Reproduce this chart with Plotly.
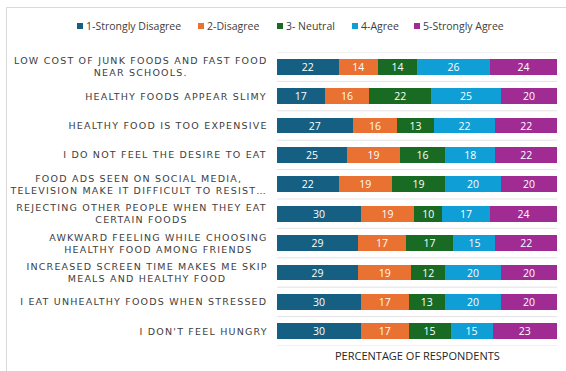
import plotly.graph_objects as go

categories = [
    "LOW COST OF JUNK FOODS AND FAST FOOD<br>NEAR SCHOOLS.",
    "HEALTHY FOODS APPEAR SLIMY",
    "HEALTHY FOOD IS TOO EXPENSIVE",
    "I DO NOT FEEL THE DESIRE TO EAT",
    "FOOD ADS SEEN ON SOCIAL MEDIA,<br>TELEVISION MAKE IT DIFFICULT TO RESIST…",
    "REJECTING OTHER PEOPLE WHEN THEY EAT<br>CERTAIN FOODS",
    "AWKWARD FEELING WHILE CHOOSING<br>HEALTHY FOOD AMONG FRIENDS",
    "INCREASED SCREEN TIME MAKES ME SKIP<br>MEALS AND HEALTHY FOOD",
    "I EAT UNHEALTHY FOODS WHEN STRESSED",
    "I DON'T FEEL HUNGRY",
]
series_names = ["1-Strongly Disagree", "2-Disagree", "3- Neutral", "4-Agree", "5-Strongly Agree"]
strongly_disagree = [22, 17, 27, 25, 22, 30, 29, 29, 30, 30]
disagree = [14, 16, 16, 19, 19, 19, 17, 19, 17, 17]
neutral = [14, 22, 13, 16, 19, 10, 17, 12, 13, 15]
agree = [26, 25, 22, 18, 20, 17, 15, 20, 20, 15]
strongly_agree = [24, 20, 22, 22, 20, 24, 22, 20, 20, 23]
series_values = [strongly_disagree, disagree, neutral, agree, strongly_agree]
colors = ["#156082", "#E97132", "#196B24", "#0F9ED5", "#A02B93"]
x_title = "PERCENTAGE OF RESPONDENTS"

W, H = 566, 371
L, R, T, B = 277, 9, 52, 25
pw, ph = W - L - R, H - T - B


def px_x(p):
    return (p - L) / pw


def px_y(p):
    return 1 - (p - T) / ph


ids = list(range(len(categories)))

fig = go.Figure()
for name, vals, col in zip(series_names, series_values, colors):
    fig.add_trace(go.Bar(
        y=ids, x=vals, name=name, orientation="h",
        marker=dict(color=col, line=dict(width=0)),
        text=vals, texttemplate="%{x}", textposition="inside",
        insidetextanchor="middle", textangle=0,
        textfont=dict(color="white", size=10.5, family="Open Sans"),
        hoverinfo="skip", showlegend=False,
    ))

shapes = []
for i in range(len(categories) + 1):
    shapes.append(dict(type="line", xref="paper", yref="y", x0=0, x1=1,
                       y0=i - 0.5, y1=i - 0.5, line=dict(color="#e3e3e3", width=1),
                       layer="below"))
# chart border
shapes.append(dict(type="rect", xref="paper", yref="paper",
                   x0=px_x(6.5), x1=px_x(W + 10),
                   y0=px_y(H + 10), y1=px_y(7.5),
                   line=dict(color="#d9d9d9", width=1), fillcolor="rgba(0,0,0,0)"))

annotations = []
for i, c in enumerate(categories):
    annotations.append(dict(x=0, xref="paper", y=i, yref="y", text=c, showarrow=False,
                            xanchor="right", yanchor="middle", align="center", xshift=-9,
                            font=dict(family="DejaVu Sans", size=9.5, color="#404040")))
annotations.append(dict(x=0.5, xref="paper", y=px_y(355), yref="paper", text=x_title,
                        showarrow=False, xanchor="center", yanchor="middle",
                        font=dict(family="Open Sans", size=11, color="#262626")))

# legend (drawn manually for compact spacing like the reference)
legend_square_px = [77, 198, 277, 352, 414]
legend_y = 26
for name, col, sx in zip(series_names, colors, legend_square_px):
    shapes.append(dict(type="rect", xref="paper", yref="paper",
                       x0=px_x(sx), x1=px_x(sx + 6), y0=px_y(legend_y + 3), y1=px_y(legend_y - 3),
                       line=dict(width=0), fillcolor=col))
    annotations.append(dict(x=px_x(sx + 7), xref="paper", y=px_y(legend_y), yref="paper",
                            text=name, showarrow=False, xanchor="left", yanchor="middle",
                            font=dict(family="Open Sans", size=10.5, color="#404040")))

fig.update_layout(
    width=W, height=H, barmode="stack", bargap=0.46,
    margin=dict(l=L, r=R, t=T, b=B, pad=0),
    paper_bgcolor="white", plot_bgcolor="white",
    xaxis=dict(range=[0, 100], showgrid=False, showticklabels=False, zeroline=False,
               showline=False, ticks=""),
    yaxis=dict(range=[len(categories) - 0.5, -0.5], showgrid=False, showticklabels=False,
               zeroline=False, showline=False, ticks=""),
    shapes=shapes, annotations=annotations, showlegend=False,
    uniformtext=dict(minsize=10, mode="show"),
)

NCAT = len(categories)
post = """
(function(){
  var gd = document.getElementById('{plot_id}');
  var groups = gd.querySelectorAll('g.annotation');
  groups.forEach(function(g){
    var idx = parseInt(g.getAttribute('data-index'));
    if (isNaN(idx) || idx >= %d) return;
    var t = g.querySelector('text.annotation-text');
    if (!t) return;
    var b0 = t.getBBox();
    t.style.letterSpacing = '1.2px';
    var b1 = t.getBBox();
    var dx = (b0.x + b0.width) - (b1.x + b1.width) + 1.2;
    t.setAttribute('transform', 'translate(' + dx + ',0)');
  });
})();
""" % NCAT

fig.write_html("out.html", post_script=post)
